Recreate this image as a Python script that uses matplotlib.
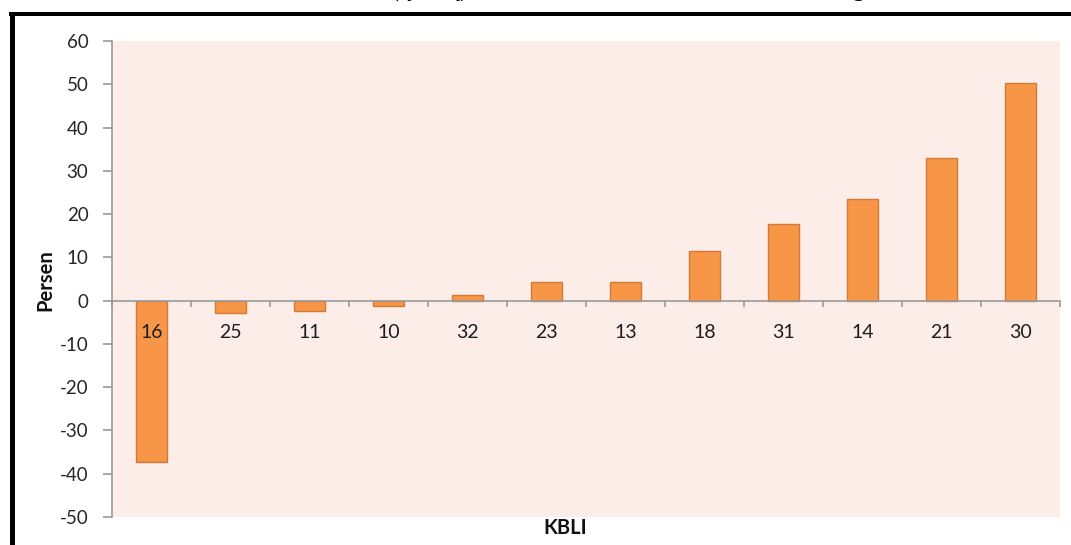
import matplotlib
matplotlib.use("Agg")
import matplotlib.pyplot as plt
from matplotlib.lines import Line2D
from matplotlib.ticker import FixedLocator, MultipleLocator

plt.rcParams["axes.unicode_minus"] = False

# KBLI 2-digit industry codes and their q-to-q growth (percent)
kbli = ["16", "25", "11", "10", "32", "23", "13", "18", "31", "14", "21", "30"]
growth = [-37.2, -2.9, -2.4, -1.3, 1.4, 4.3, 4.3, 11.4, 17.8, 23.6, 33.0, 50.2]

title_text = "Pertumbuhan (q-to-q) Produksi Industri Menurut KBLI 2 Digit"
y_label = "Persen"
x_label = "KBLI"

W, H = 1071, 545
fig = plt.figure(figsize=(W / 100, H / 100), dpi=100)
fig.patch.set_facecolor("white")


def fx(px):
    return px / W


def fy(py):
    return 1 - py / H


ax = fig.add_axes([fx(112), fy(517), fx(1060) - fx(112), fy(41) - fy(517)])
ax.set_facecolor("#FCEDE9")

positions = list(range(len(kbli)))
ax.bar(positions, growth, width=0.4, color="#F79646",
       edgecolor="#D17A38", linewidth=1.0, zorder=1)

ax.set_xlim(-0.5, len(kbli) - 0.5)
ax.set_ylim(-50, 60)
ax.yaxis.set_major_locator(MultipleLocator(10))

axis_grey = "#9A9A9A"
for side in ("top", "right"):
    ax.spines[side].set_visible(False)
ax.spines["left"].set_color(axis_grey)
ax.spines["left"].set_linewidth(1.2)
ax.spines["bottom"].set_position(("data", 0))
ax.spines["bottom"].set_color(axis_grey)
ax.spines["bottom"].set_linewidth(1.2)
ax.spines["bottom"].set_zorder(4)

# category labels sit under the zero line, drawn over the bars;
# tick marks at the category boundaries
ax.set_xticks(positions)
ax.set_xticklabels(kbli)
ax.xaxis.set_zorder(5)
ax.xaxis.set_minor_locator(FixedLocator([p - 0.5 for p in positions] + [len(kbli) - 0.5]))
ax.tick_params(axis="x", which="major", length=0, pad=17,
               labelsize=14, labelcolor="#1E1E1E")
ax.tick_params(axis="x", which="minor", length=4.5, width=1.2,
               color=axis_grey, direction="out")
ax.tick_params(axis="y", which="major", length=6.5, width=1.2,
               color=axis_grey, direction="out", pad=10.5,
               labelsize=13.5, labelcolor="#262626")

for lab in ax.get_xticklabels() + ax.get_yticklabels():
    lab.set_fontfamily("Lato")

fig.text(fx(45), fy(280), y_label, rotation=90, ha="center", va="center",
         fontsize=14.5, fontweight="bold", family="Lato", color="#111111")
fig.text(fx(565), fy(528), x_label, ha="center", va="center",
         fontsize=14.5, fontweight="bold", family="Lato", color="#111111")

# caption running off the top edge
fig.text(fx(566), fy(-3), title_text, ha="center", va="baseline",
         fontsize=18, style="italic", family="Liberation Serif", color="black")

# black frame along the top and left edges
lw = 4 * 72 / 100
fig.add_artist(Line2D([fx(9), 1.0], [fy(14), fy(14)], transform=fig.transFigure,
                      color="black", linewidth=lw, solid_capstyle="butt"))
fig.add_artist(Line2D([fx(11.5), fx(11.5)], [fy(12), 0.0], transform=fig.transFigure,
                      color="black", linewidth=lw * 1.25, solid_capstyle="butt"))

fig.savefig("out.png", dpi=100, facecolor="white")
